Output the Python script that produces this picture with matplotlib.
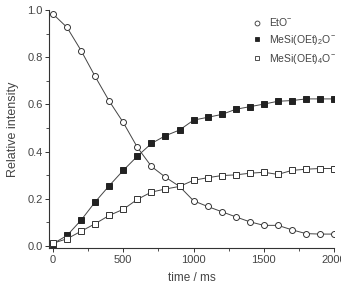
import numpy as np
import matplotlib.pyplot as plt

plt.rcParams['font.family'] = ['Liberation Sans', 'DejaVu Sans']
plt.rcParams['mathtext.fontset'] = 'custom'
plt.rcParams['mathtext.rm'] = 'Liberation Sans'

time_ms = [0, 100, 200, 300, 400, 500, 600, 700, 800, 900, 1000,
           1100, 1200, 1300, 1400, 1500, 1600, 1700, 1800, 1900, 2000]

eto = [0.983, 0.926, 0.828, 0.718, 0.614, 0.523, 0.418, 0.337, 0.291, 0.252, 0.191,
       0.167, 0.145, 0.123, 0.102, 0.087, 0.087, 0.068, 0.052, 0.050, 0.050]
mesi2 = [0.009, 0.044, 0.109, 0.186, 0.255, 0.320, 0.380, 0.434, 0.467, 0.491, 0.533,
         0.545, 0.557, 0.579, 0.590, 0.601, 0.613, 0.616, 0.623, 0.623, 0.623]
mesi4 = [0.011, 0.030, 0.062, 0.094, 0.129, 0.155, 0.197, 0.228, 0.241, 0.252, 0.278,
         0.289, 0.298, 0.301, 0.308, 0.312, 0.303, 0.320, 0.325, 0.328, 0.328]

labels = [r'EtO$^{-}$', r'MeSi(OEt)$_2$O$^{-}$', r'MeSi(OEt)$_4$O$^{-}$']

txt = '#444444'
fig = plt.figure(figsize=(3.41, 2.85), dpi=100)
ax = fig.add_axes([0.145, 0.129, 0.835, 0.836])

ms = 4.3
ax.plot(time_ms, eto, color='#444444', lw=0.7, marker='o', ms=ms, mfc='white', mec='#333333', mew=0.7)
ax.plot(time_ms, mesi2, color='#444444', lw=0.7, marker='s', ms=ms - 0.5, mfc='#222222', mec='#222222', mew=0.7)
ax.plot(time_ms, mesi4, color='#444444', lw=0.7, marker='s', ms=ms - 0.5, mfc='white', mec='#333333', mew=0.7)

# legend markers only
h = [plt.Line2D([], [], ls='none', marker='o', ms=3.5, mfc='white', mec='#333333', mew=0.6),
     plt.Line2D([], [], ls='none', marker='s', ms=3.5, mfc='#222222', mec='#222222', mew=0.6),
     plt.Line2D([], [], ls='none', marker='s', ms=3.5, mfc='white', mec='#333333', mew=0.6)]
leg = ax.legend(h, labels, loc='upper left', bbox_to_anchor=(0.69, 1.0), frameon=False,
                fontsize=7.5, handlelength=1.0, handletextpad=0.6, labelspacing=0.45, labelcolor=txt,
                borderaxespad=0.2)

ax.set_xlim(-25, 2000)
ax.set_ylim(-0.01, 1.0)
ax.set_xticks([0, 500, 1000, 1500, 2000])
ax.set_xticks([250, 750, 1250, 1750], minor=True)
ax.set_yticks([0.0, 0.2, 0.4, 0.6, 0.8, 1.0])
ax.set_yticks([0.1, 0.3, 0.5, 0.7, 0.9], minor=True)
ax.yaxis.set_major_formatter(plt.FormatStrFormatter('%.1f'))

for s in ['top', 'right']:
    ax.spines[s].set_visible(False)
for s in ['left', 'bottom']:
    ax.spines[s].set_color('#333333')
    ax.spines[s].set_linewidth(0.8)

ax.tick_params(which='major', length=3, width=0.7, color='#333333', labelsize=8, labelcolor=txt, pad=2)
ax.tick_params(which='minor', length=2, width=0.6, color='#333333')

ax.set_ylabel('Relative intensity', fontsize=9, color=txt, labelpad=6)
ax.set_xlabel('time / ms', fontsize=8.5, color=txt, labelpad=5)

fig.savefig('out.png', dpi=100)
